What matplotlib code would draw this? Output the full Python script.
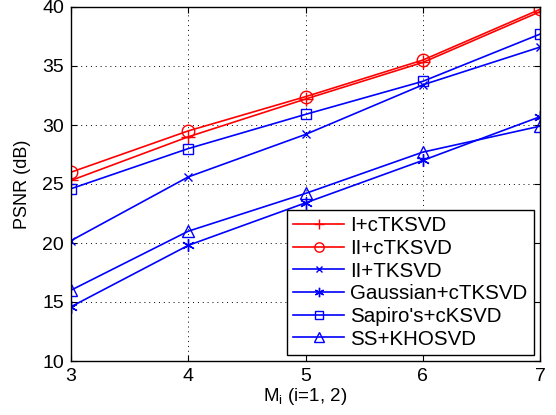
import matplotlib
matplotlib.use("Agg")
import matplotlib.pyplot as plt

plt.rcParams['font.family'] = ['Liberation Sans', 'DejaVu Sans']

m_values = [3, 4, 5, 6, 7]

psnr_i_ctksvd = [25.3, 29.0, 32.2, 35.3, 39.6]
psnr_ii_ctksvd = [26.0, 29.5, 32.4, 35.5, 39.8]
psnr_ii_tksvd = [20.2, 25.6, 29.2, 33.4, 36.6]
psnr_gaussian = [14.6, 19.8, 23.4, 27.0, 30.7]
psnr_sapiro = [24.6, 28.0, 30.9, 33.7, 37.7]
psnr_ss = [16.0, 21.0, 24.2, 27.7, 29.9]

# matlab-style six-armed asterisk
asterisk = (6, 2, 0)

series = [
    ("I+cTKSVD", psnr_i_ctksvd, "r", "+", 10),
    ("II+cTKSVD", psnr_ii_ctksvd, "r", "o", 9),
    ("II+TKSVD", psnr_ii_tksvd, "b", "x", 6),
    ("Gaussian+cTKSVD", psnr_gaussian, "b", asterisk, 9),
    ("Sapiro's+cKSVD", psnr_sapiro, "b", "s", 7),
    ("SS+KHOSVD", psnr_ss, "b", "^", 9),
]

fig = plt.figure(figsize=(5.56, 4.15), dpi=100)
ax = fig.add_axes([71 / 556, 1 - 361 / 415, 469 / 556, 354 / 415])

for label, vals, col, mk, ms in series:
    ax.plot(m_values, vals, color=col, marker=mk, markersize=ms,
            markerfacecolor="none", markeredgecolor=col, markeredgewidth=1.0,
            linewidth=1.2, label=label)

ax.set_xlim(3, 7)
ax.set_ylim(10, 40)
ax.set_xticks(m_values)
ax.set_yticks(range(10, 41, 5))
ax.tick_params(direction="in", top=True, right=True, labelsize=14, length=4, pad=5)
ax.grid(True, color="black", linestyle=(0, (1, 4)), linewidth=0.7)
for s in ax.spines.values():
    s.set_linewidth(1.0)

ax.set_xlabel("M$_\\mathregular{i}$ (i=1, 2)", fontsize=13.5, labelpad=1)
ax.set_ylabel("PSNR (dB)", fontsize=13, labelpad=8)

leg = ax.legend(loc="lower right", fontsize=14.8, fancybox=False,
                edgecolor="black", framealpha=1, borderaxespad=0.3,
                handlelength=2.5, labelspacing=0.18, borderpad=0.3,
                handletextpad=0.3, markerscale=0.75)
leg.get_frame().set_linewidth(1.0)

fig.savefig("out.png", dpi=100)
